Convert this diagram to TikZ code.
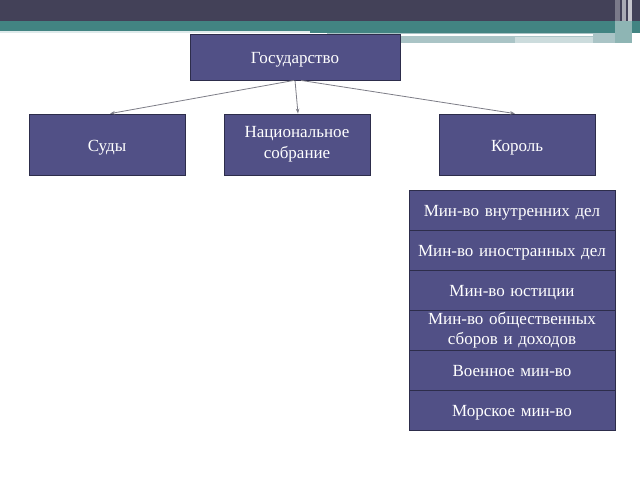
\documentclass[tikz,border=0pt]{standalone}
\usepackage{fontspec}
\setmainfont{Liberation Serif}
\usetikzlibrary{arrows.meta}
\definecolor{boxfill}{RGB}{81,80,134}
\definecolor{boxline}{RGB}{45,45,75}
\definecolor{hdark}{RGB}{67,65,88}
\definecolor{hteal}{RGB}{66,132,130}
\definecolor{hlight}{RGB}{170,196,198}
\definecolor{hpale}{RGB}{222,234,235}
\definecolor{conn}{RGB}{125,125,135}
\tikzset{
  box/.style={draw=boxline, line width=0.8pt, fill=boxfill, text=white, align=center,
    font=\fontsize{17}{21}\selectfont, inner sep=2pt},
  oneline/.style={text height=16pt, text depth=3pt},
  ministry/.style={box, minimum width=206pt, minimum height=40pt, text width=200pt},
  link/.style={draw=conn, line width=0.8pt, -{Stealth[length=5pt,width=3.5pt]}}
}
\begin{document}
\begin{tikzpicture}[x=1pt,y=-1pt]
\useasboundingbox (0,0) rectangle (640,480);
\fill[white] (0,0) rectangle (640,480);
% header decoration
\fill[hdark] (0,0) rectangle (640,21);
\fill[hteal] (0,21) rectangle (640,31);
\fill[hpale] (0,31) rectangle (310,33);
\fill[hteal] (310,31) rectangle (640,33);
\fill[hlight] (327,33) rectangle (630,43);
\fill[white] (400,34) rectangle (593,36);
\fill[hlight!60!white] (515,37) rectangle (593,43);
\fill[hdark!70!white] (615,0) rectangle (620,21);
\fill[hdark!45!white] (622,0) rectangle (626,21);
\fill[hdark!30!white] (628,0) rectangle (632,21);
\fill[hteal!60!white] (615,21) rectangle (632,43);
% boxes
\node[box, oneline, minimum width=210pt, minimum height=46pt] (gos) at (295,57) {Государство};
\node[box, oneline, minimum width=156pt, minimum height=61pt] (sudy) at (107,144.5) {Суды};
\node[box, minimum width=146pt, minimum height=61pt, text width=140pt] (nac) at (297,144.5) {Национальное\\собрание};
\node[box, oneline, minimum width=156pt, minimum height=61pt] (korol) at (517,144.5) {Король};
\node[ministry, oneline] (m1) at (512,210) {Мин-во внутренних дел};
\node[ministry, oneline] (m2) at (512,250) {Мин-во иностранных дел};
\node[ministry, oneline] (m3) at (512,290) {Мин-во юстиции};
\node[ministry] (m4) at (512,330) {Мин-во общественных\\[-1pt]сборов и доходов};
\node[ministry, oneline] (m5) at (512,370) {Военное мин-во};
\node[ministry, oneline] (m6) at (512,410) {Морское мин-во};
% connectors
\draw[link] ([xshift=-1pt]gos.south) -- ([xshift=3pt]sudy.north);
\draw[link] (gos.south) -- ([xshift=1pt]nac.north);
\draw[link] ([xshift=6pt]gos.south) -- ([xshift=-2pt]korol.north);
\end{tikzpicture}
\end{document}
